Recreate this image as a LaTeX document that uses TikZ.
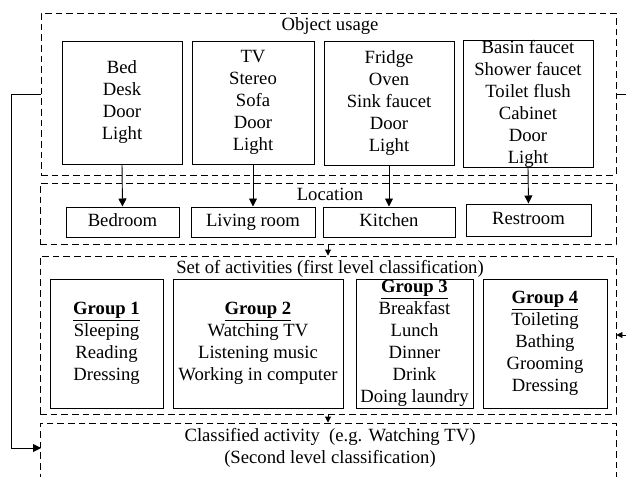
\documentclass[tikz,border=0pt]{standalone}
\usepackage{fontspec}
\setmainfont{Liberation Serif}
\usetikzlibrary{arrows.meta,positioning}

\tikzset{
  dashbox/.style={draw, dash pattern=on 5pt off 3pt, line width=0.7pt, inner sep=0pt},
  itembox/.style={draw, line width=0.75pt, align=center, inner sep=0pt},
  roombox/.style={draw, line width=0.75pt, inner sep=0pt, text height=9.5pt, text depth=3pt},
  lbl/.style={inner sep=0pt, align=center},
  tip/.style={-{Triangle[length=6pt,width=6pt]}, line width=0.7pt},
  smalltip/.style={-{Triangle[length=4.5pt,width=4.5pt]}, line width=0.7pt}
}

\begin{document}
\begin{tikzpicture}[x=0.75pt, y=-0.75pt, font=\fontsize{14}{16.5}\selectfont]
\def\px{0.75pt}
\useasboundingbox (0,0) rectangle (626,476);

% outer dashed frames
\node[dashbox, minimum width=575*\px, minimum height=162*\px] (obj) at (328.5,94) {};
\node[dashbox, minimum width=576*\px, minimum height=61*\px] (loc) at (328,213.5) {};
\node[dashbox, minimum width=576*\px, minimum height=158*\px] (set) at (328,335) {};
\node[dashbox, minimum width=576*\px, minimum height=56*\px] (cls) at (328,451) {};

% frame titles
\node[lbl] (objlbl) at (330,26) {Object usage};
\node[lbl] (loclbl) at (330,194) {Location};
\node[lbl] (setlbl) at (330,269) {Set of activities (first level classification)};
\node[lbl] (clslbl) at (330,447.5) {Classified activity\ \ (e.g. Watching TV)\\(Second level classification)};

% objects per room
\node[itembox, minimum width=120*\px, minimum height=123*\px] (obed) at (122,102.5) {Bed\\Desk\\Door\\Light};
\node[itembox, minimum width=122*\px, minimum height=123*\px] (oliv) at (253,102.5) {TV\\Stereo\\Sofa\\Door\\Light};
\node[itembox, minimum width=130*\px, minimum height=124*\px] (okit) at (389,103) {Fridge\\Oven\\Sink faucet\\Door\\Light};
\node[itembox, minimum width=130*\px, minimum height=126*\px] (ores) at (528,104) {Basin faucet\\Shower faucet\\Toilet flush\\Cabinet\\Door\\Light};

% rooms
\node[roombox, minimum width=113*\px, minimum height=30*\px] (bedroom) at (122.5,222) {Bedroom};
\node[roombox, minimum width=124*\px, minimum height=30*\px] (living) at (253,222) {Living room};
\node[roombox, minimum width=132*\px, minimum height=30*\px] (kitchen) at (389,222) {Kitchen};
\node[roombox, minimum width=125*\px, minimum height=32*\px] (restroom) at (528.5,220) {Restroom};

% activity groups
\node[itembox, minimum width=113*\px, minimum height=129*\px] (g1) at (106.5,343.5) {\textbf{\underline{Group 1}}\\Sleeping\\Reading\\Dressing};
\node[itembox, minimum width=170*\px, minimum height=129*\px] (g2) at (258,343.5) {\textbf{\underline{Group 2}}\\Watching TV\\Listening music\\Working in computer};
\node[itembox, minimum width=117*\px, minimum height=129*\px] (g3) at (414.5,343.5) {\textbf{\underline{Group 3}}\\Breakfast\\Lunch\\Dinner\\Drink\\Doing laundry};
\node[itembox, minimum width=124*\px, minimum height=129*\px] (g4) at (545,343.5) {\textbf{\underline{Group 4}}\\Toileting\\Bathing\\Grooming\\Dressing};

% objects to rooms
\foreach \o/\r in {obed/bedroom, oliv/living, okit/kitchen, ores/restroom} {
    \draw[tip] (\o.south) -- (\r.north);
}

% between frames
\draw[smalltip] (loc.south) -- (set.north);
\draw[smalltip] (set.south) -- (cls.north);

% feedback loops
\coordinate (clsin) at (41,448);
\draw[tip] (obj.west) -- ++(-29,0) |- (clsin);
\draw[smalltip] (obj.east) -- ++(20,0) |- (set.east);

\end{tikzpicture}
\end{document}
